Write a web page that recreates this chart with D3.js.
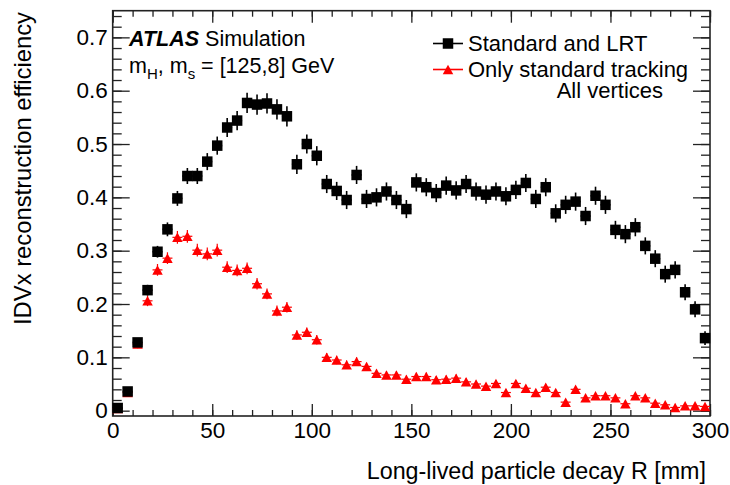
<!DOCTYPE html>
<html>
<head>
<meta charset="utf-8">
<script src="https://cdn.jsdelivr.net/npm/d3@7/dist/d3.min.js"></script>
<style>
  html, body { margin: 0; padding: 0; background: #fff; }
  svg { display: block; }
  text { font-family: "Liberation Sans", Arial, Helvetica, sans-serif; fill: #000; }
</style>
</head>
<body>
<svg id="chart" width="730" height="485"></svg>
<script>
// Bin centres of the decay radius R [mm] (5 mm bins)
const binCentres = [
  2.5, 7.5, 12.5, 17.5, 22.5, 27.5, 32.5, 37.5, 42.5, 47.5,
  52.5, 57.5, 62.5, 67.5, 72.5, 77.5, 82.5, 87.5, 92.5, 97.5,
  102.5, 107.5, 112.5, 117.5, 122.5, 127.5, 132.5, 137.5, 142.5, 147.5,
  152.5, 157.5, 162.5, 167.5, 172.5, 177.5, 182.5, 187.5, 192.5, 197.5,
  202.5, 207.5, 212.5, 217.5, 222.5, 227.5, 232.5, 237.5, 242.5, 247.5,
  252.5, 257.5, 262.5, 267.5, 272.5, 277.5, 282.5, 287.5, 292.5, 297.5
];
const binHalfWidth = 2.5;

// Efficiency with standard + large-radius tracking
const effStdLRT = [
  0.005, 0.036, 0.128, 0.226, 0.298, 0.340, 0.398, 0.440, 0.440, 0.467,
  0.497, 0.531, 0.544, 0.577, 0.574, 0.576, 0.565, 0.552, 0.462, 0.500,
  0.478, 0.425, 0.412, 0.395, 0.442, 0.397, 0.400, 0.411, 0.395, 0.378,
  0.428, 0.419, 0.408, 0.422, 0.413, 0.425, 0.411, 0.405, 0.411, 0.402,
  0.414, 0.427, 0.397, 0.419, 0.370, 0.386, 0.392, 0.365, 0.403, 0.386,
  0.339, 0.331, 0.344, 0.309, 0.285, 0.256, 0.264, 0.222, 0.190, 0.136
];
const errStdLRT = [
  0.003, 0.005, 0.008, 0.010, 0.011, 0.013, 0.014, 0.015, 0.015, 0.016,
  0.017, 0.018, 0.018, 0.019, 0.019, 0.019, 0.019, 0.019, 0.018, 0.018,
  0.018, 0.017, 0.017, 0.017, 0.017, 0.017, 0.017, 0.017, 0.017, 0.017,
  0.017, 0.017, 0.017, 0.017, 0.017, 0.017, 0.017, 0.017, 0.017, 0.017,
  0.017, 0.017, 0.017, 0.017, 0.017, 0.017, 0.017, 0.017, 0.017, 0.017,
  0.017, 0.017, 0.017, 0.016, 0.016, 0.016, 0.016, 0.015, 0.015, 0.013
];

// Efficiency with standard tracking only
const effStdOnly = [
  0.004, 0.034, 0.125, 0.206, 0.264, 0.286, 0.325, 0.327, 0.301, 0.294,
  0.301, 0.269, 0.263, 0.267, 0.238, 0.219, 0.187, 0.194, 0.142, 0.147,
  0.133, 0.100, 0.095, 0.086, 0.092, 0.083, 0.070, 0.067, 0.067, 0.059,
  0.064, 0.064, 0.058, 0.059, 0.061, 0.054, 0.050, 0.046, 0.051, 0.034,
  0.051, 0.042, 0.034, 0.044, 0.034, 0.016, 0.040, 0.024, 0.028, 0.028,
  0.024, 0.013, 0.028, 0.024, 0.014, 0.011, 0.006, 0.009, 0.009, 0.008
];
const errStdOnly = [
  0.003, 0.005, 0.008, 0.010, 0.011, 0.011, 0.012, 0.012, 0.012, 0.012,
  0.012, 0.011, 0.011, 0.011, 0.011, 0.010, 0.010, 0.010, 0.009, 0.009,
  0.009, 0.008, 0.008, 0.008, 0.008, 0.007, 0.007, 0.007, 0.007, 0.007,
  0.007, 0.007, 0.007, 0.007, 0.007, 0.007, 0.006, 0.006, 0.006, 0.006,
  0.006, 0.006, 0.006, 0.006, 0.006, 0.005, 0.006, 0.005, 0.005, 0.005,
  0.005, 0.004, 0.005, 0.005, 0.004, 0.004, 0.003, 0.004, 0.004, 0.004
];

const xTickValues = [0, 50, 100, 150, 200, 250, 300];
const yTickValues = [0, 0.1, 0.2, 0.3, 0.4, 0.5, 0.6, 0.7];
const xMinorTicks = d3.range(0, 301, 10);
const yMinorTicks = d3.range(0, 0.751, 0.02);

const seriesLabels = ["Standard and LRT", "Only standard tracking"];

// Frame geometry
const frame = { left: 112.7, right: 710, top: 10.7, bottom: 416 };

const svg = d3.select("#chart");
svg.append("rect").attr("width", 730).attr("height", 485).attr("fill", "#fff");

const x = d3.scaleLinear().domain([0, 300]).range([frame.left, frame.right]);
const y = d3.scaleLinear().domain([-0.01, 0.75]).range([frame.bottom, frame.top]);

const tickStroke = "#222";

function styleAxis(g, labelSize) {
  g.select(".domain").remove();
  g.selectAll(".tick line").attr("stroke", tickStroke).attr("stroke-width", 1.3);
  g.selectAll(".tick text").style("font-size", labelSize + "px").attr("fill", "#000");
}

// Bottom axis: major ticks with labels, minor ticks without
const gxMinor = svg.append("g").attr("transform", `translate(0,${frame.bottom})`)
  .call(d3.axisBottom(x).tickValues(xMinorTicks).tickSize(-6).tickFormat(""));
styleAxis(gxMinor, 0);
const gx = svg.append("g").attr("transform", `translate(0,${frame.bottom})`)
  .call(d3.axisBottom(x).tickValues(xTickValues).tickSize(-12).tickPadding(6.5).tickFormat(d3.format("d")));
styleAxis(gx, 22.5);

// Top axis mirrors the bottom ticks
const gxTopMinor = svg.append("g").attr("transform", `translate(0,${frame.top})`)
  .call(d3.axisTop(x).tickValues(xMinorTicks).tickSize(-6).tickFormat(""));
styleAxis(gxTopMinor, 0);
const gxTop = svg.append("g").attr("transform", `translate(0,${frame.top})`)
  .call(d3.axisTop(x).tickValues(xTickValues).tickSize(-12).tickFormat(""));
styleAxis(gxTop, 0);

// Left axis
const gyMinor = svg.append("g").attr("transform", `translate(${frame.left},0)`)
  .call(d3.axisLeft(y).tickValues(yMinorTicks).tickSize(-9).tickFormat(""));
styleAxis(gyMinor, 0);
const gy = svg.append("g").attr("transform", `translate(${frame.left},0)`)
  .call(d3.axisLeft(y).tickValues(yTickValues).tickSize(-17).tickPadding(5)
    .tickFormat(d => d === 0 ? "0" : d3.format(".1f")(d)));
styleAxis(gy, 22.5);

// Right axis mirrors the left ticks
const gyRMinor = svg.append("g").attr("transform", `translate(${frame.right},0)`)
  .call(d3.axisRight(y).tickValues(yMinorTicks).tickSize(-9).tickFormat(""));
styleAxis(gyRMinor, 0);
const gyR = svg.append("g").attr("transform", `translate(${frame.right},0)`)
  .call(d3.axisRight(y).tickValues(yTickValues).tickSize(-17).tickFormat(""));
styleAxis(gyR, 0);

// Frame
svg.append("rect")
  .attr("x", frame.left).attr("y", frame.top)
  .attr("width", frame.right - frame.left).attr("height", frame.bottom - frame.top)
  .attr("fill", "none").attr("stroke", tickStroke).attr("stroke-width", 1.6);

// Axis titles
svg.append("text")
  .attr("x", 706).attr("y", 479)
  .attr("text-anchor", "end")
  .style("font-size", "23.3px")
  .text("Long-lived particle decay R [mm]");

svg.append("text")
  .attr("transform", "translate(31,12) rotate(-90)")
  .attr("text-anchor", "end")
  .style("font-size", "23.8px")
  .text("IDVx reconstruction efficiency");

// Data points
const plot = svg.append("g");

const rows = binCentres.map((c, i) => ({
  c, lrt: effStdLRT[i], lrtErr: errStdLRT[i], std: effStdOnly[i], stdErr: errStdOnly[i]
}));

function triangle(cx, cy, w, h) {
  return `M${cx - w / 2},${cy + h / 2}L${cx + w / 2},${cy + h / 2}L${cx},${cy - h / 2}Z`;
}

// Standard-only series (red triangles)
const red = "#ff0000";
const gRed = plot.append("g");
gRed.selectAll("line.v").data(rows).join("line")
  .attr("x1", d => x(d.c)).attr("x2", d => x(d.c))
  .attr("y1", d => y(d.std - d.stdErr)).attr("y2", d => y(d.std + d.stdErr))
  .attr("stroke", red).attr("stroke-width", 1.2);
gRed.selectAll("line.h").data(rows).join("line")
  .attr("x1", d => x(d.c - binHalfWidth)).attr("x2", d => x(d.c + binHalfWidth))
  .attr("y1", d => y(d.std)).attr("y2", d => y(d.std))
  .attr("stroke", red).attr("stroke-width", 1.2);

// Standard + LRT series (black squares)
const gBlack = plot.append("g");
gBlack.selectAll("line.v").data(rows).join("line")
  .attr("x1", d => x(d.c)).attr("x2", d => x(d.c))
  .attr("y1", d => y(d.lrt - d.lrtErr)).attr("y2", d => y(d.lrt + d.lrtErr))
  .attr("stroke", "#000").attr("stroke-width", 1.6);
gBlack.selectAll("line.h").data(rows).join("line")
  .attr("x1", d => x(d.c - binHalfWidth)).attr("x2", d => x(d.c + binHalfWidth))
  .attr("y1", d => y(d.lrt)).attr("y2", d => y(d.lrt))
  .attr("stroke", "#000").attr("stroke-width", 1.6);
gBlack.selectAll("rect").data(rows).join("rect")
  .attr("x", d => x(d.c) - 5.25).attr("y", d => y(d.lrt) - 5.25)
  .attr("width", 10.5).attr("height", 10.5)
  .attr("fill", "#000");

// Triangles drawn on top of squares
gRed.selectAll("path").data(rows).join("path")
  .attr("d", d => triangle(x(d.c), y(d.std), 10.5, 9.5))
  .attr("fill", red);

// ATLAS label
const atlas = svg.append("text").attr("x", 129).attr("y", 46).style("font-size", "21.5px");
atlas.append("tspan").style("font-weight", "bold").style("font-style", "italic").text("ATLAS");
atlas.append("tspan").attr("dx", 6).text("Simulation");

const massLine = svg.append("text").attr("x", 129).attr("y", 73).style("font-size", "21.5px");
massLine.append("tspan").text("m");
massLine.append("tspan").attr("dy", 6).style("font-size", "15px").text("H");
massLine.append("tspan").attr("dy", -6).text(", m");
massLine.append("tspan").attr("dy", 6).style("font-size", "15px").text("s");
massLine.append("tspan").attr("dy", -6).text(" = [125,8] GeV");

// Legend
const legend = svg.append("g");
const legendRows = [
  { label: seriesLabels[0], color: "#000", marker: "square", y: 43.5 },
  { label: seriesLabels[1], color: red, marker: "triangle", y: 69.5 }
];
legendRows.forEach(r => {
  legend.append("line")
    .attr("x1", 433).attr("x2", 463).attr("y1", r.y).attr("y2", r.y)
    .attr("stroke", r.color).attr("stroke-width", 1.6);
  if (r.marker === "square") {
    legend.append("rect").attr("x", 448 - 5.25).attr("y", r.y - 5.25)
      .attr("width", 10.5).attr("height", 10.5).attr("fill", r.color);
  } else {
    legend.append("path").attr("d", triangle(448, r.y, 10.5, 9.5)).attr("fill", r.color);
  }
  legend.append("text").attr("x", 468).attr("y", r.y + 7.8)
    .style("font-size", "22px").text(r.label);
});
legend.append("text").attr("x", 663).attr("y", 98)
  .attr("text-anchor", "end").style("font-size", "22px").text("All vertices");
</script>
</body>
</html>
